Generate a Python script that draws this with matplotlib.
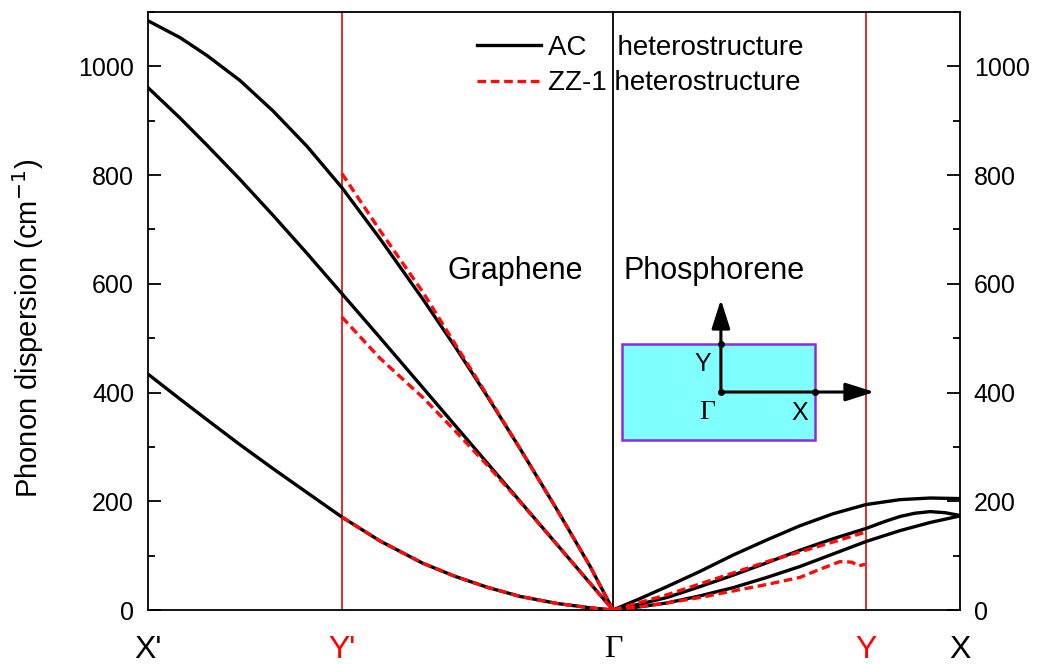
import matplotlib
matplotlib.use('Agg')
import matplotlib.pyplot as plt
import matplotlib.ticker as ticker
from matplotlib.patches import Rectangle

plt.rcParams['font.family'] = ['Liberation Sans', 'DejaVu Sans']
plt.rcParams['font.size'] = 18

# high-symmetry points along the path (X' - Y' - Gamma - Y - X)
k_points = [0.0, 0.417, 1.0, 1.544, 1.746]
k_labels = ["X'", "Y'", "\u0393", "Y", "X"]
k_colors = ['black', 'red', 'black', 'red', 'black']

# graphene side, AC heterostructure
k_gr = [0.0, 0.069, 0.127, 0.198, 0.269, 0.342, 0.417, 0.499, 0.591, 0.660,
        0.729, 0.800, 0.880, 0.951, 1.0]
ac_gr1 = [1084, 1053, 1020, 974, 918, 853, 777, 683, 572, 485, 394, 297, 184, 80, 0]
ac_gr2 = [961, 905, 855, 792, 726, 656, 582, 501, 409, 340, 271, 200, 120, 49, 0]
ac_gr3 = [434, 388, 350, 304, 260, 216, 171, 127, 86, 62, 42, 25, 12, 4, 0]

# graphene side, ZZ-1 heterostructure (Y' -> Gamma)
k_gr_zz = [0.417, 0.499, 0.591, 0.660, 0.729, 0.800, 0.880, 0.951, 1.0]
zz_gr1 = [803, 698, 585, 490, 396, 297, 184, 80, 0]
zz_gr2 = [539, 463, 391, 330, 267, 199, 120, 49, 0]
zz_gr3 = [171, 127, 86, 62, 42, 25, 12, 4, 0]

# phosphorene side, AC heterostructure (Gamma -> X)
k_ph1 = [1.0, 1.058, 1.116, 1.187, 1.258, 1.331, 1.402, 1.473, 1.544, 1.617, 1.682, 1.746]
ac_ph1 = [0, 21, 43, 71, 101, 129, 155, 177, 194, 203, 206, 205]
k_ph2 = [1.0, 1.058, 1.116, 1.187, 1.258, 1.331, 1.402, 1.473, 1.544, 1.585, 1.617,
         1.649, 1.682, 1.714, 1.746]
ac_ph2 = [0, 11, 23, 43, 64, 87, 110, 131, 150, 163, 172, 178, 181, 179, 174]
ac_ph3 = [0, 6, 13, 26, 41, 60, 80, 103, 126, 146, 161, 173]

# phosphorene side, ZZ-1 heterostructure (Gamma -> Y)
k_ph_zz1 = [1.0, 1.058, 1.116, 1.187, 1.258, 1.331, 1.402, 1.473, 1.538]
zz_ph1 = [0, 14, 28, 48, 68, 89, 107, 125, 142]
k_ph_zz2 = [1.0, 1.058, 1.116, 1.187, 1.258, 1.331, 1.402, 1.445, 1.488, 1.514, 1.527, 1.542]
zz_ph2 = [0, 6, 13, 23, 35, 47, 60, 75, 89, 88, 81, 84]

fig = plt.figure(figsize=(10.39, 6.65), dpi=100)
ax = fig.add_axes([0.1424, 0.0827, 0.7815, 0.8992])

lw = 2.4
red = '#ff0a0a'
for k, v in [(k_gr, ac_gr1), (k_gr, ac_gr2), (k_gr, ac_gr3),
             (k_ph1, ac_ph1), (k_ph2, ac_ph2), (k_ph1, ac_ph3)]:
    h_ac, = ax.plot(k, v, color='black', lw=lw, solid_joinstyle='round', zorder=3)
for k, v in [(k_gr_zz, zz_gr1), (k_gr_zz, zz_gr2), (k_gr_zz, zz_gr3),
             (k_ph_zz1, zz_ph1), (k_ph_zz2, zz_ph2)]:
    h_zz, = ax.plot(k, v, color=red, lw=lw, dashes=(2.6, 1.4), zorder=4)

# vertical guide lines
ax.axvline(k_points[1], color='#e31a1c', lw=1.3, zorder=1)
ax.axvline(k_points[3], color='#e31a1c', lw=1.3, zorder=1)
ax.axvline(k_points[2], color='black', lw=1.3, zorder=1)

ax.set_xlim(k_points[0], k_points[-1])
ax.set_ylim(0, 1100)

ax.set_xticks(k_points)
ax.set_xticklabels(k_labels, fontsize=23)
for lab, c in zip(ax.get_xticklabels(), k_colors):
    lab.set_color(c)
ax.get_xticklabels()[2].set_family(['Liberation Serif', 'DejaVu Serif'])
ax.tick_params(axis='x', which='major', length=0, pad=18)
ax.xaxis.set_minor_locator(ticker.FixedLocator([k_points[2]]))
ax.tick_params(axis='x', which='minor', direction='out', length=7, width=1.3,
               top=False)

ax.yaxis.set_major_locator(ticker.MultipleLocator(200))
ax.yaxis.set_minor_locator(ticker.MultipleLocator(100))
ax.tick_params(axis='y', which='both', direction='in', left=True, right=True,
               labelleft=True, labelright=True, width=1.3)
ax.tick_params(axis='y', which='major', length=9.5, pad=10)
ax.tick_params(axis='y', which='minor', length=5)
for s in ax.spines.values():
    s.set_linewidth(1.3)

ax.set_ylabel('Phonon dispersion (cm$^{-1}$)', fontsize=21)
ax.yaxis.set_label_coords(-0.125, 0.47)

ax.text(0.789, 624, 'Graphene', ha='center', va='center', fontsize=22)
ax.text(1.217, 624, 'Phosphorene', ha='center', va='center', fontsize=22)

# Brillouin zone inset
ax.add_patch(Rectangle((1.019, 313), 0.415, 176, facecolor='#80ffff',
                       edgecolor='#8a2be2', lw=1.8, zorder=5))
arrow = dict(arrowstyle='-|>,head_length=1.1,head_width=0.35', lw=2.2,
             color='black', mutation_scale=16, shrinkA=0, shrinkB=0)
ax.annotate('', xy=(1.232, 571), xytext=(1.232, 401), arrowprops=arrow, zorder=6)
ax.annotate('', xy=(1.562, 401), xytext=(1.232, 401), arrowprops=arrow, zorder=6)
ax.plot([1.232, 1.232, 1.434], [401, 489, 401], 'o', color='black', ms=4, zorder=7)
ax.text(1.194, 453, 'Y', ha='center', va='center', fontsize=18, zorder=7)
ax.text(1.202, 364, '\u0393', ha='center', va='center', fontsize=20, zorder=7,
        family=['Liberation Serif', 'DejaVu Serif'])
ax.text(1.402, 362, 'X', ha='center', va='center', fontsize=18, zorder=7)

ax.legend([h_ac, h_zz], ['AC    heterostructure', 'ZZ-1 heterostructure'],
          loc='upper left', bbox_to_anchor=(0.405, 0.962), frameon=False,
          handlelength=2.3, handletextpad=0.25, labelspacing=0.35, borderpad=0,
          borderaxespad=0, fontsize=20)

plt.savefig('out.png', dpi=100)
